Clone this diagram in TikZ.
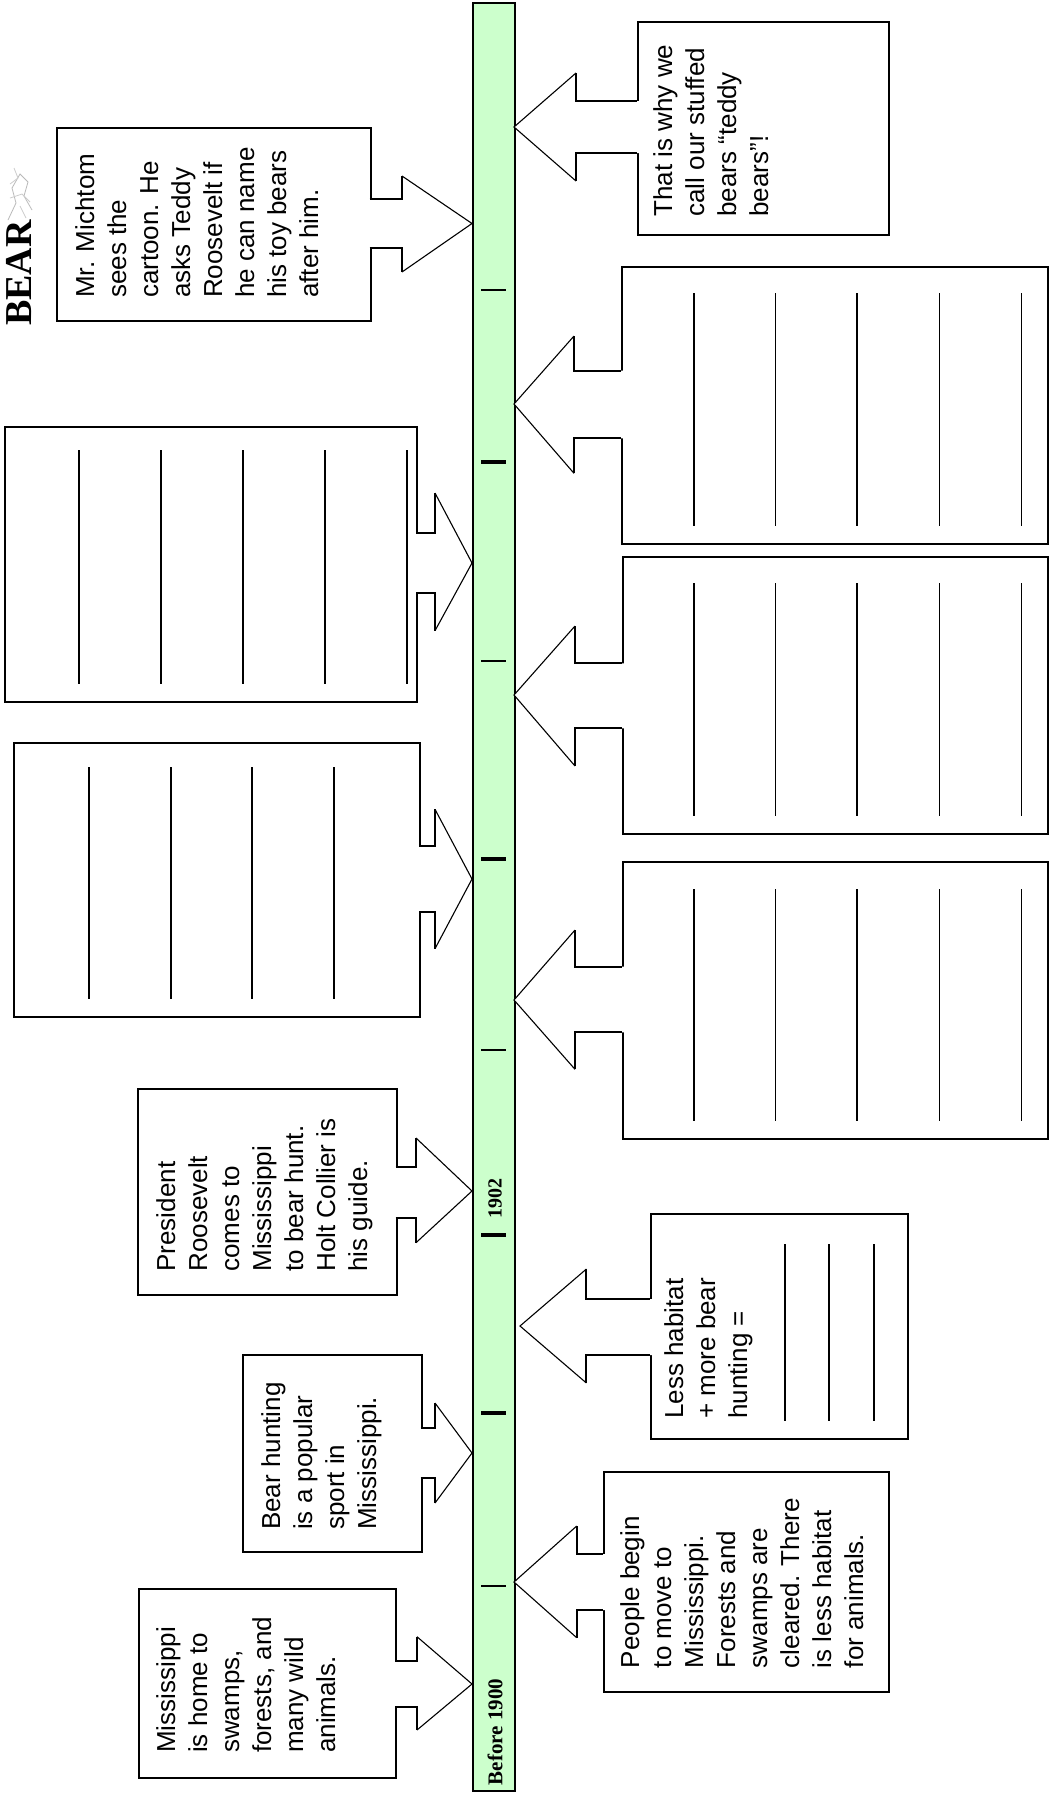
\documentclass[tikz,border=0pt]{standalone}
\usepackage{fontspec}
\setmainfont{Liberation Sans}
\newfontfamily\serifb{Liberation Serif}
\definecolor{bargreen}{HTML}{CCFFCC}
\tikzset{
  cbox/.style={draw=black, line width=2pt, fill=white, inner sep=0pt, rectangle, anchor=north west},
  neck/.style={draw=black, line width=2pt, line join=miter},
  wing/.style={draw=black, line width=1.1pt},
  wline/.style={draw=black, line width=1.8pt},
  ctext/.style={rotate=90, anchor=north west, align=left, inner sep=0pt, font=\fontsize{26}{32}\selectfont},
  tickthin/.style={draw=black, line width=2pt},
  tickthick/.style={draw=black, line width=4pt},
  yearlbl/.style={rotate=90, anchor=center, inner sep=0pt, font=\serifb\bfseries\fontsize{20}{20}\selectfont},
}
% #1 box edge x, #2 inside x, #3 neck top, #4 neck bottom, #5 neck x, #6 wing top, #7 wing bottom, #8 tip
\newcommand{\callarrow}[8]{%
  \fill[white] (#2,#3) -- (#5,#3) -- (#5,#6) -- #8 -- (#5,#7) -- (#5,#4) -- (#2,#4) -- cycle;
  \draw[neck] (#1,#3) -- (#5,#3) -- (#5,#6);
  \draw[neck] (#1,#4) -- (#5,#4) -- (#5,#7);
  \draw[wing] (#5,#6) -- #8 -- (#5,#7);
}
\begin{document}
\begin{tikzpicture}[x=1pt,y=-1pt]
\useasboundingbox (0,0) rectangle (1053,1797);
\fill[white] (0,0) rectangle (1053,1797);

% logo fragment
\node[rotate=90, anchor=base, inner sep=0pt, font=\serifb\bfseries\fontsize{38}{38}\selectfont] (logo) at (31,273) {BEAR};
\draw[gray!55, line width=0.8pt] (8,220) -- (16,203) -- (12,188) -- (20,174) -- (28,182) -- (24,196) -- (32,210);
\draw[gray!40, line width=0.8pt] (10,198) -- (22,194) -- (30,202) (14,168) -- (18,178) -- (10,184) (20,206) -- (26,218);

% time bar
\node[draw=black, line width=2pt, fill=bargreen, inner sep=0pt, anchor=north west,
      minimum width=42pt, minimum height=1788pt] (bar) at (472,2) {};
\foreach \t in {290,661,1050,1586} \draw[tickthin] (481,\t) -- (506,\t);
\foreach \t in {462,859,1235,1413} \draw[tickthick] (481,\t) -- (506,\t);
\node[yearlbl] (y1902) at (495,1198) {1902};
\node[yearlbl, font=\serifb\bfseries\fontsize{21}{21}\selectfont] (y1900) at (495,1732) {Before 1900};

% ---------- left callouts ----------
\node[cbox, minimum width=313.5pt, minimum height=193pt] (l1) at (56,127) {};
\callarrow{369.5}{366.5}{199}{248}{402}{176}{272}{(472,223.5)}
\node[ctext] (l1t) at (75,298) {Mr. Michtom\\sees the\\cartoon. He\\asks Teddy\\Roosevelt if\\he can name\\his toy bears\\after him.};

\node[cbox, minimum width=412pt, minimum height=274.7pt] (l2) at (4,426) {};
\callarrow{416}{413}{532.7}{593.3}{435}{493}{630.7}{(472,563)}
\foreach \x in {79,161,243,325,407} \draw[wline] (\x,450) -- (\x,684);

\node[cbox, minimum width=405.7pt, minimum height=273.4pt] (l3) at (13.3,742.3) {};
\callarrow{419}{416}{846}{912}{435}{809.3}{948.7}{(472,879)}
\foreach \x in {89,170.7,252.3,334.3} \draw[wline] (\x,767) -- (\x,999);

\node[cbox, minimum width=258.7pt, minimum height=206.6pt] (l4) at (137,1087.7) {};
\callarrow{395.7}{392.7}{1166.7}{1217.5}{416}{1138}{1242.7}{(472,1191)}
\node[ctext] (l4t) at (156,1271.7) {President\\Roosevelt\\comes to\\Mississippi\\to bear hunt.\\Holt Collier is\\his guide.};

\node[cbox, minimum width=178.7pt, minimum height=197pt] (l5) at (242,1354) {};
\callarrow{420.7}{417.7}{1428}{1478}{435}{1403}{1503}{(472,1453)}
\node[ctext] (l5t) at (261,1530) {Bear hunting\\is a popular\\sport in\\Mississippi.};

\node[cbox, minimum width=257.9pt, minimum height=188.7pt] (l6) at (137.5,1588) {};
\callarrow{395.4}{392.4}{1661}{1707.3}{417}{1636.7}{1730}{(472,1684)}
\node[ctext] (l6t) at (156,1753) {Mississippi\\is home to\\swamps,\\forests, and\\many wild\\animals.};

% ---------- right callouts ----------
\node[cbox, minimum width=251pt, minimum height=213.3pt] (r1) at (637,20.7) {};
\callarrow{637}{640}{101}{153}{576}{73}{181}{(514,127)}
\node[ctext] (r1t) at (653,216.7) {That is why we\\call our stuffed\\bears “teddy\\bears”!};

\node[cbox, minimum width=426pt, minimum height=277pt] (r2) at (621,265.7) {};
\callarrow{621}{624}{370.7}{438.3}{574}{336}{473.3}{(514,404)}
\foreach \x in {694,775.5,857.3,939.5,1021.5} \draw[wline] (\x,293) -- (\x,526);

\node[cbox, minimum width=425.3pt, minimum height=276.7pt] (r5) at (621.7,556) {};
\callarrow{621.7}{624.7}{663.3}{728.3}{575}{626}{766}{(514,695)}
\foreach \x in {694,775.5,857.3,939.5,1021.5} \draw[wline] (\x,583) -- (\x,816);

\node[cbox, minimum width=425.3pt, minimum height=277.6pt] (r6) at (621.7,860.7) {};
\callarrow{621.7}{624.7}{966.7}{1032.3}{575}{930}{1069.3}{(514,1000)}
\foreach \x in {694,775.5,857.3,939.5,1021.5} \draw[wline] (\x,889) -- (\x,1121);

\node[cbox, minimum width=257.2pt, minimum height=225pt] (r3) at (649.6,1213) {};
\callarrow{649.6}{652.6}{1299}{1355}{586.4}{1269}{1383}{(520,1326)}
\node[ctext] (r3t) at (664,1419) {Less habitat\\+ more bear\\hunting =};
\foreach \x in {784.6,829,873.6} \draw[wline] (\x,1244) -- (\x,1421);

\node[cbox, minimum width=285.6pt, minimum height=220pt] (r4) at (602.7,1470.7) {};
\callarrow{602.7}{605.7}{1554}{1610}{576.7}{1526}{1637.7}{(514,1582)}
\node[ctext] (r4t) at (620,1668.3) {People begin\\to move to\\Mississippi.\\Forests and\\swamps are\\cleared. There\\is less habitat\\for animals.};
\end{tikzpicture}
\end{document}
